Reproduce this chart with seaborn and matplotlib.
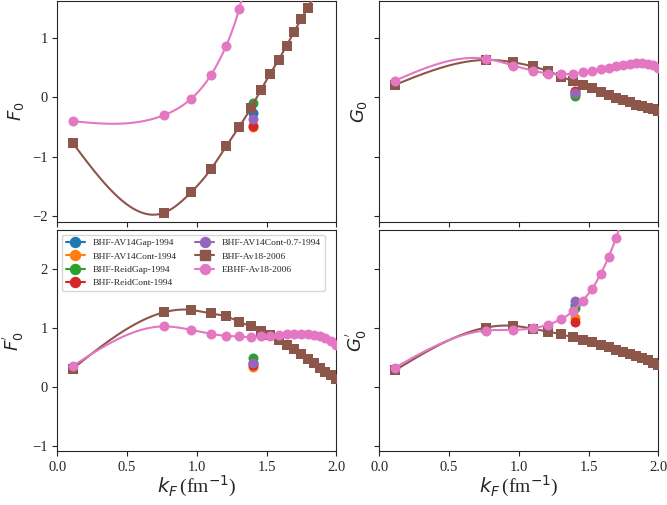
import numpy as np
import matplotlib
matplotlib.use('Agg')
import matplotlib.pyplot as plt
import seaborn as sns
from matplotlib.lines import Line2D

# Fermi momentum grid (fm^-1) of the Av18-2006 calculations
kf = [0.110, 0.763, 0.961, 1.100, 1.211, 1.304, 1.386, 1.459, 1.526, 1.587,
      1.644, 1.697, 1.747, 1.794, 1.839, 1.882, 1.923, 1.962, 2.000]

bhf_f0 = [-0.765, -1.94, -1.59, -1.21, -0.82, -0.495, -0.185, 0.125, 0.39, 0.63,
          0.87, 1.10, 1.31, 1.50, 1.70, 1.90, 2.10, 2.30, 2.50]
ebhf_f0 = [-0.40, -0.30, -0.02, 0.37, 0.87, 1.49, 2.30]

bhf_g0 = [0.21, 0.63, 0.59, 0.52, 0.44, 0.35, 0.27, 0.21, 0.15, 0.09,
          0.04, -0.01, -0.05, -0.08, -0.12, -0.15, -0.18, -0.20, -0.23]
ebhf_g0 = [0.28, 0.65, 0.535, 0.45, 0.40, 0.385, 0.40, 0.42, 0.445, 0.47,
           0.50, 0.525, 0.55, 0.565, 0.575, 0.575, 0.565, 0.545, 0.50]

bhf_f0p = [0.31, 1.27, 1.31, 1.25, 1.20, 1.11, 1.03, 0.96, 0.89, 0.80,
           0.72, 0.64, 0.56, 0.48, 0.40, 0.33, 0.26, 0.20, 0.14]
ebhf_f0p = [0.355, 1.03, 0.97, 0.905, 0.87, 0.86, 0.845, 0.86, 0.875, 0.89,
            0.90, 0.905, 0.905, 0.895, 0.88, 0.86, 0.83, 0.78, 0.71]

bhf_g0p = [0.28, 1.01, 1.04, 0.99, 0.94, 0.895, 0.845, 0.80, 0.76, 0.715,
           0.675, 0.635, 0.595, 0.56, 0.52, 0.485, 0.45, 0.415, 0.38]
ebhf_g0p = [0.325, 0.96, 0.97, 1.00, 1.06, 1.155, 1.285, 1.47, 1.675, 1.925,
            2.215, 2.54, 2.90, 3.30]

# single BHF results from 1994 at kF = 1.4 fm^-1
kf_1994 = 1.4
labels_1994 = ['BHF-AV14Gap-1994', 'BHF-AV14Cont-1994', 'BHF-ReidGap-1994',
               'BHF-ReidCont-1994', 'BHF-AV14Cont-0.7-1994']
f0_1994 = [-0.27, -0.50, -0.10, -0.48, -0.37]
g0_1994 = [0.05, 0.09, 0.02, 0.11, 0.08]
f0p_1994 = [0.40, 0.34, 0.49, 0.38, 0.41]
g0p_1994 = [1.40, 1.18, 1.34, 1.10, 1.465]


def smooth(x, y, n=400):
    # natural cubic spline through the points
    x = np.asarray(x, float)
    y = np.asarray(y, float)
    h = np.diff(x)
    m = len(x)
    A = np.zeros((m, m))
    b = np.zeros(m)
    A[0, 0] = A[-1, -1] = 1
    for i in range(1, m - 1):
        A[i, i - 1] = h[i - 1]
        A[i, i] = 2 * (h[i - 1] + h[i])
        A[i, i + 1] = h[i]
        b[i] = 3 * ((y[i + 1] - y[i]) / h[i] - (y[i] - y[i - 1]) / h[i - 1])
    c = np.linalg.solve(A, b)
    xs = np.linspace(x[0], x[-1], n)
    j = np.clip(np.searchsorted(x, xs) - 1, 0, m - 2)
    dx = xs - x[j]
    bc = (y[j + 1] - y[j]) / h[j] - h[j] * (2 * c[j] + c[j + 1]) / 3
    d = (c[j + 1] - c[j]) / (3 * h[j])
    return xs, y[j] + bc * dx + c[j] * dx ** 2 + d * dx ** 3


sns.set_style('ticks')
plt.rcParams['font.family'] = ['Liberation Serif', 'DejaVu Sans']
plt.rcParams['mathtext.fontset'] = 'dejavusans'

fig, axes = plt.subplots(2, 2, figsize=(6.67, 5.05), dpi=100)
fig.subplots_adjust(left=0.086, right=0.987, top=0.998, bottom=0.106, wspace=0.155, hspace=0.035)

panels = [
    (axes[0, 0], r'$F_0$', bhf_f0, ebhf_f0, f0_1994),
    (axes[0, 1], r'$G_0$', bhf_g0, ebhf_g0, g0_1994),
    (axes[1, 0], r"$F_0^{'}$", bhf_f0p, ebhf_f0p, f0p_1994),
    (axes[1, 1], r"$G_0^{'}$", bhf_g0p, ebhf_g0p, g0p_1994),
]

ms = 7.2
for ax, ylab, bhf, ebhf, old in panels:
    for i, v in enumerate(old):
        sns.scatterplot(x=[kf_1994], y=[v], color=f'C{i}', marker='o', s=ms ** 2,
                        linewidth=0, ax=ax, zorder=2 + 0.1 * i)
    for k, (vals, col, mk) in enumerate([(bhf, 'C5', 's'), (ebhf, 'C6', 'o')]):
        xk = kf[:len(vals)]
        xs, ys = smooth(xk, vals)
        sns.lineplot(x=xs, y=ys, color=col, lw=1.5, ax=ax, zorder=3 + k)
        sns.scatterplot(x=xk, y=vals, color=col, marker=mk, s=ms ** 2,
                        linewidth=0, ax=ax, zorder=3.5 + k)
    ax.set_ylabel(ylab, fontsize=13)
    ax.set_xlim(0, 2)
    ax.set_xticks([0.0, 0.5, 1.0, 1.5, 2.0])
    ax.tick_params(labelsize=10.5)
    for s in ax.spines.values():
        s.set_visible(True)

for ax in axes[0]:
    ax.set_ylim(-2.1, 1.62)
    ax.set_yticks([-2, -1, 0, 1])
    ax.tick_params(labelbottom=False)
for ax in axes[1]:
    ax.set_ylim(-1.1, 2.67)
    ax.set_yticks([-1, 0, 1, 2])
    ax.set_xlabel(r'$k_F\,$(fm$^{-1}$)', fontsize=14, labelpad=0)
for ax in axes[:, 1]:
    ax.tick_params(labelleft=False)

handles = [Line2D([], [], color=f'C{i}', marker='o', ms=ms, lw=1.5) for i in range(5)]
handles.append(Line2D([], [], color='C5', marker='s', ms=ms, lw=1.5))
handles.append(Line2D([], [], color='C6', marker='o', ms=ms, lw=1.5))
legend_labels = labels_1994 + ['BHF-Av18-2006', 'EBHF-Av18-2006']
axes[1, 0].legend(handles, legend_labels, loc='upper left', ncol=2, fontsize=6.8)

fig.savefig('out.png', dpi=100)
